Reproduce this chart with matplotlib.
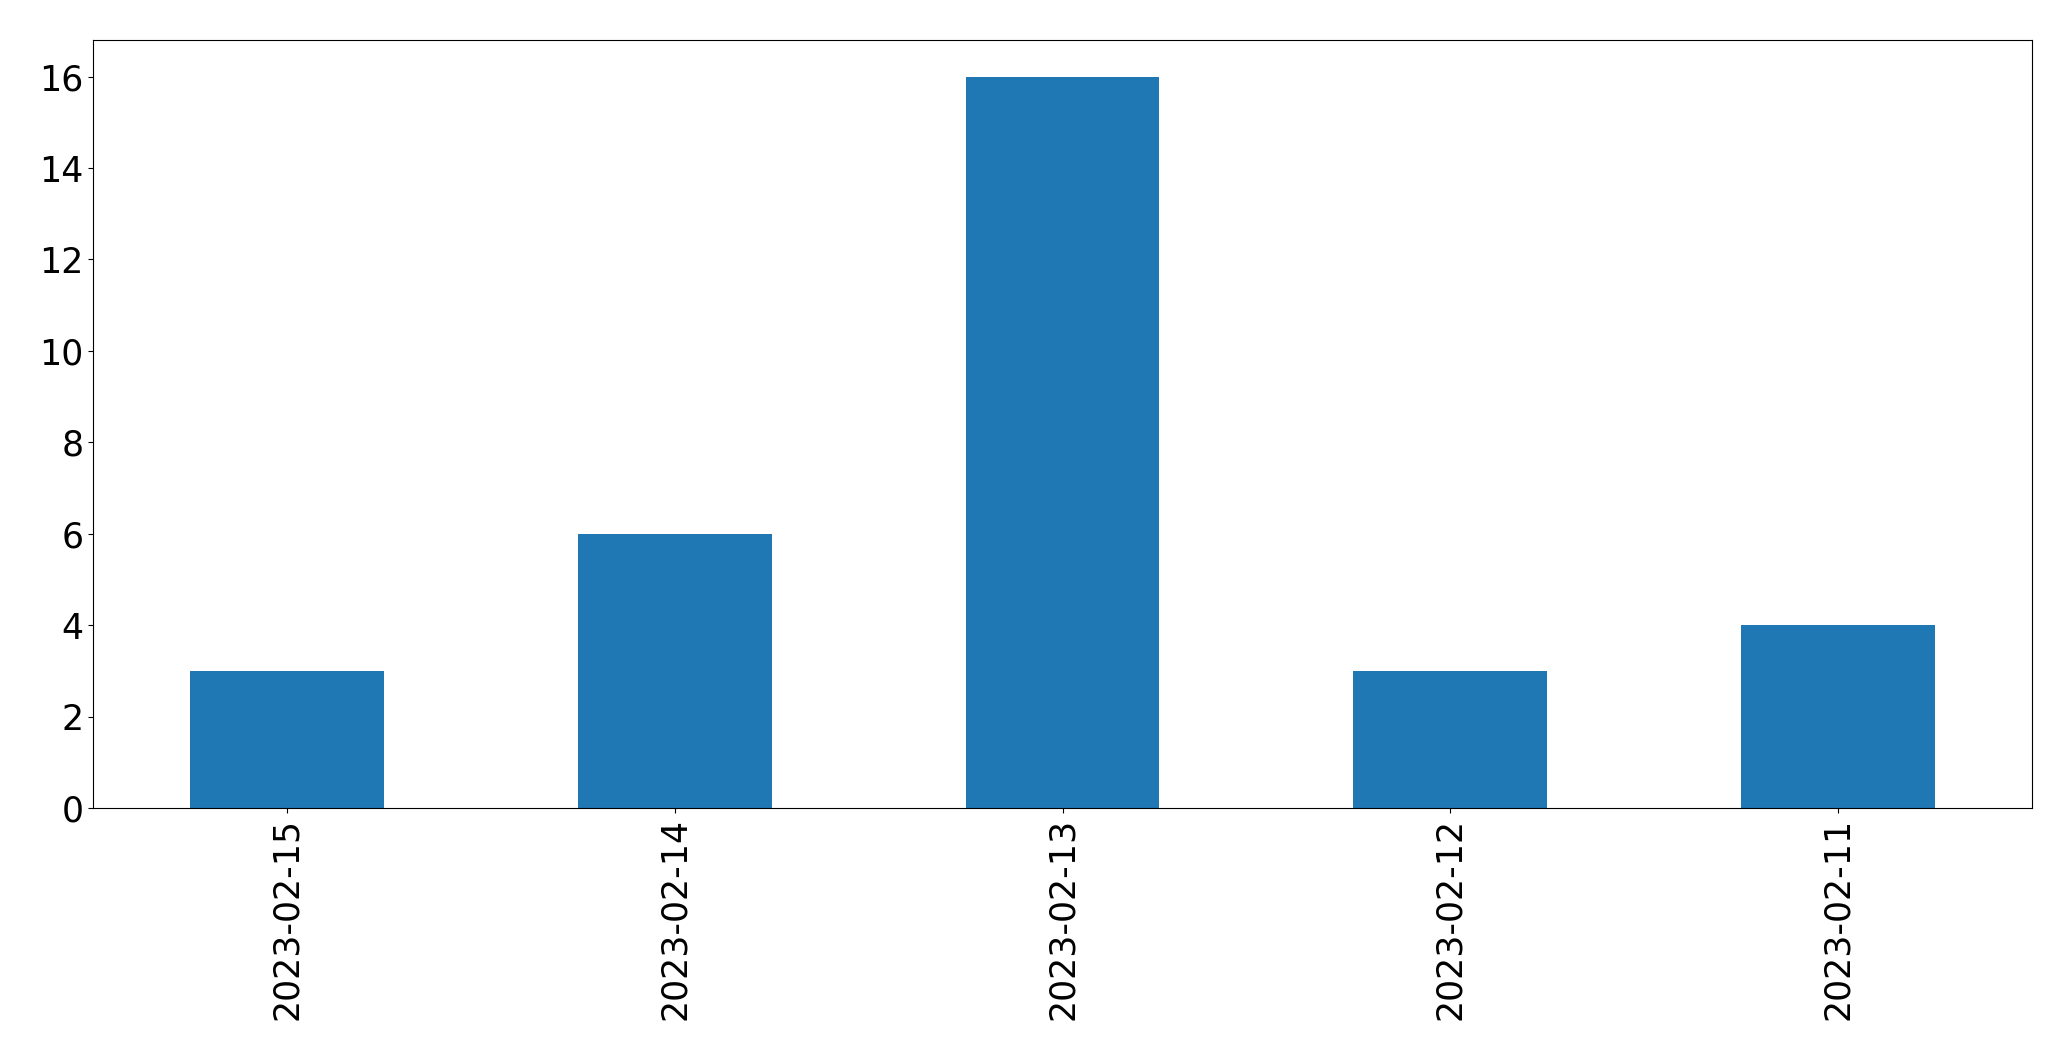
import pandas as pd
import matplotlib.pyplot as plt

dates = ["2023-02-15", "2023-02-14", "2023-02-13", "2023-02-12", "2023-02-11"]
counts = [3, 6, 16, 3, 4]

s = pd.Series(counts, index=dates)

fig = plt.figure(figsize=(20.71, 10.61), dpi=100)
ax = fig.add_axes([93 / 2071, 1 - 808 / 1061, (2032 - 93) / 2071, (808 - 40) / 1061])
s.plot(kind="bar", ax=ax, color="#1f77b4", fontsize=25)
ax.set_ylim(0, 16.8)

fig.savefig("out.png", dpi=100)
